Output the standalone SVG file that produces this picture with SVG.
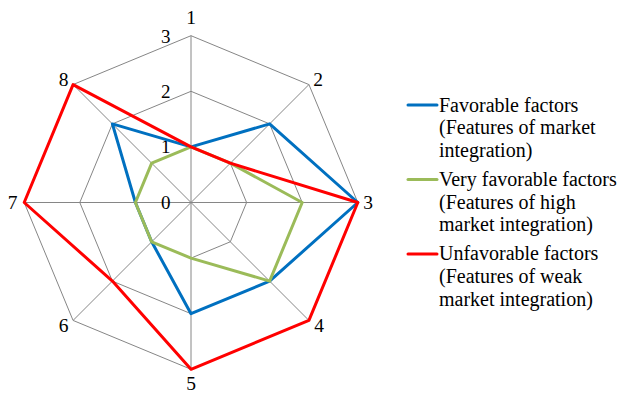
<svg xmlns="http://www.w3.org/2000/svg" width="620" height="394" viewBox="0 0 620 394">
<style>
.grid{fill:none;stroke:#868686;stroke-width:1}
.s{fill:none;stroke-width:3;stroke-linejoin:round;stroke-linecap:round}
.blue{stroke:#0070C0}
.green{stroke:#9BBB59}
.red{stroke:#FF0000}
.ax{text-anchor:middle}
.sc{text-anchor:end}
</style>
<rect width="620" height="394" fill="#fff"/>
<g id="grid">
<polygon class="grid" points="191,146.9 230.31,163.19 246.6,202.5 230.31,241.81 191,258.1 151.69,241.81 135.4,202.5 151.69,163.19"/>
<polygon class="grid" points="191,91.3 269.62,123.88 302.2,202.5 269.62,281.12 191,313.7 112.38,281.12 79.8,202.5 112.38,123.88"/>
<polygon class="grid" points="191,35.7 308.93,84.57 357.8,202.5 308.93,320.43 191,369.3 73.07,320.43 24.2,202.5 73.07,84.57"/>
<path class="grid" d="M191,202.5V35.7M191,202.5L308.93,84.57M191,202.5H357.8M191,202.5L308.93,320.43M191,202.5V369.3M191,202.5L73.07,320.43M191,202.5H24.2M191,202.5L73.07,84.57"/>
</g>
<g id="axis-labels" font-family="'Liberation Serif', 'DejaVu Serif', serif" font-size="19.5" fill="#000">
<text class="ax" x="191" y="24">1</text>
<text class="ax" x="318" y="86">2</text>
<text class="ax" x="368" y="209">3</text>
<text class="ax" x="319" y="332">4</text>
<text class="ax" x="191" y="390">5</text>
<text class="ax" x="63.5" y="332">6</text>
<text class="ax" x="12.5" y="209">7</text>
<text class="ax" x="63.5" y="86">8</text>
</g>
<g id="scale-labels" font-family="'Liberation Serif', 'DejaVu Serif', serif" font-size="19" fill="#000">
<text class="sc" x="170.5" y="42.5">3</text>
<text class="sc" x="170.5" y="97.5">2</text>
<text class="sc" x="170.5" y="153">1</text>
<text class="sc" x="170.5" y="208.5">0</text>
</g>
<g id="connectors">
<polygon id="series-favorable" class="s blue" points="191,146.9 269.62,123.88 357.8,202.5 269.62,281.12 191,313.7 151.69,241.81 135.4,202.5 112.38,123.88"/>
<polygon id="series-very-favorable" class="s green" points="191,146.9 230.31,163.19 302.2,202.5 269.62,281.12 191,258.1 151.69,241.81 135.4,202.5 151.69,163.19"/>
<polygon id="series-unfavorable" class="s red" points="191,146.9 230.31,163.19 357.8,202.5 308.93,320.43 191,369.3 112.38,281.12 24.2,202.5 73.07,84.57"/>
</g>
<g id="legend" font-family="'Liberation Serif', 'DejaVu Serif', serif" font-size="20" fill="#000">
<g id="legend-favorable">
<line class="s blue" x1="408" y1="105" x2="437" y2="105" stroke-linecap="butt"/>
<text x="439" y="111.7">Favorable factors</text>
<text x="439" y="134.4">(Features of market</text>
<text x="439" y="157.1">integration)</text>
</g>
<g id="legend-very-favorable">
<line class="s green" x1="408" y1="179.5" x2="437" y2="179.5" stroke-linecap="butt"/>
<text x="439" y="186">Very favorable factors</text>
<text x="439" y="208.7">(Features of high</text>
<text x="439" y="231.4">market integration)</text>
</g>
<g id="legend-unfavorable">
<line class="s red" x1="408" y1="254" x2="437" y2="254" stroke-linecap="butt"/>
<text x="439" y="260.3">Unfavorable factors</text>
<text x="439" y="283">(Features of weak</text>
<text x="439" y="305.7">market integration)</text>
</g>
</g>
</svg>
